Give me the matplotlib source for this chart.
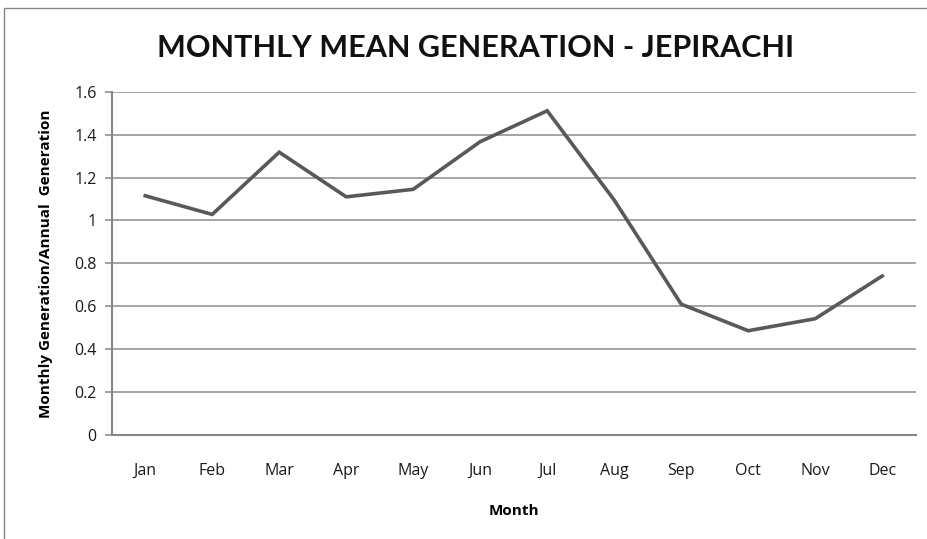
import matplotlib.pyplot as plt
from matplotlib.patches import Rectangle

# monthly mean generation / annual generation
months = ["Jan", "Feb", "Mar", "Apr", "May", "Jun",
          "Jul", "Aug", "Sep", "Oct", "Nov", "Dec"]
ratio = [1.115, 1.028, 1.318, 1.110, 1.145, 1.367,
         1.511, 1.095, 0.610, 0.486, 0.542, 0.741]
yticks = [0, 0.2, 0.4, 0.6, 0.8, 1, 1.2, 1.4, 1.6]
ytick_labels = ["0", "0.2", "0.4", "0.6", "0.8", "1", "1.2", "1.4", "1.6"]

plt.rcParams['font.family'] = ['Open Sans', 'DejaVu Sans']

fig = plt.figure(figsize=(9.27, 5.39), dpi=100)
ax = fig.add_axes([0.1205, 0.1929, 0.8673, 0.637])

x = list(range(len(months)))
ax.plot(x, ratio, color="#595959", linewidth=2.6, solid_joinstyle="miter")

ax.set_xlim(-0.5, len(months) - 0.5)
ax.set_ylim(0, 1.6)
ax.set_yticks(yticks)
ax.set_yticklabels(ytick_labels)
ax.set_xticks(x)
ax.set_xticklabels(months)

ax.grid(axis="y", color="#8c8c8c", linewidth=1.1)
ax.set_axisbelow(True)
for s in ["top", "right"]:
    ax.spines[s].set_visible(False)
ax.spines["left"].set_color("#868686")
ax.spines["bottom"].set_color("#868686")
ax.spines["left"].set_linewidth(1.5)
ax.spines["bottom"].set_linewidth(1.5)

ax.tick_params(axis="y", length=5, width=1.1, color="#868686", pad=6,
               labelsize=11.5, labelcolor="#1a1a1a")
ax.tick_params(axis="x", length=0, pad=20, labelsize=11.5, labelcolor="#1a1a1a")

ax.set_xlabel("Month", fontsize=11, fontweight="bold", labelpad=18)
ax.set_ylabel("Monthly Generation/Annual  Generation", fontsize=11,
              fontweight="bold", labelpad=15)

fig.text(157 / 927, 1 - 57 / 539, "MONTHLY MEAN GENERATION - JEPIRACHI",
         ha="left", va="baseline", fontsize=22, fontweight="bold",
         family=["Lato", "DejaVu Sans"], color="#111111")

# chart area border (left and top edges visible)
fig.patches.append(Rectangle((4 / 927, -0.05), 1.1, 1 - 8 / 539 + 0.05,
                             transform=fig.transFigure, fill=False,
                             edgecolor="#868686", linewidth=1.0))

fig.savefig("out.png", dpi=100)
